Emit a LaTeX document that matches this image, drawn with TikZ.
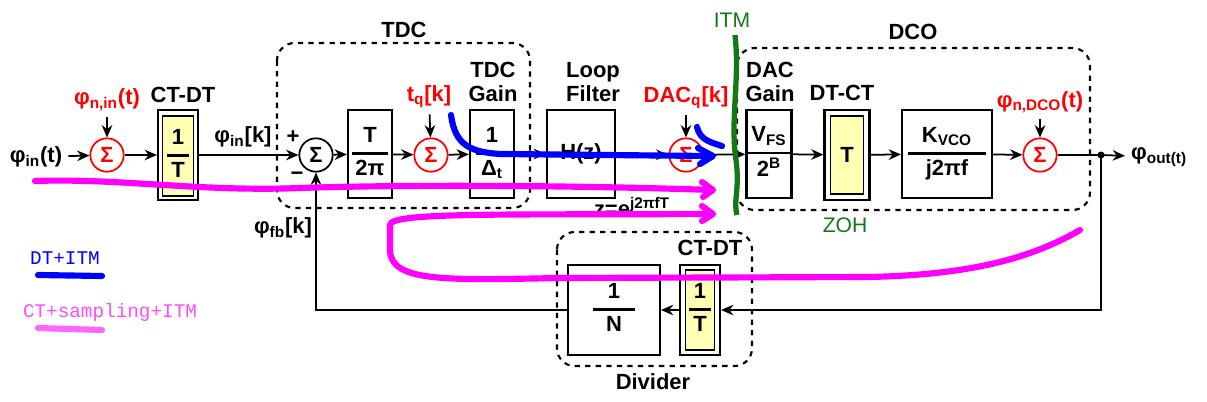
\documentclass[tikz,border=0pt]{standalone}
\usepackage{fontspec}
\setmainfont{Liberation Sans}
\newfontfamily\monof{Liberation Mono}
\usetikzlibrary{arrows.meta,calc}
\definecolor{zyel}{RGB}{255,255,180}
\definecolor{zgreen}{RGB}{20,120,20}
\definecolor{zmag}{RGB}{255,0,255}
\newcommand\zfr[3]{\begin{tabular}{@{}c@{}}#1\\[-4pt]\rule[3pt]{#3}{1.3pt}\\[-5pt]#2\end{tabular}}
\begin{document}
\begin{tikzpicture}[x=0.02cm,y=-0.02cm,font=\fontsize{12.5}{14}\selectfont\bfseries,
  bx/.style 2 args={minimum width=#1*0.567pt,minimum height=#2*0.567pt,inner sep=0pt},
  blk/.style={draw,line width=1.3pt},
  inr/.style={draw,line width=1pt,fill=zyel},
  sumr/.style={circle,draw=red,text=red,line width=1pt,minimum size=19pt,inner sep=0pt},
  sumb/.style={circle,draw,line width=1pt,minimum size=19pt,inner sep=0pt},
  sig/.style={-{Stealth[length=7pt,width=6pt]},line width=1pt},
  grp/.style={draw,dashed,line width=1.2pt,rounded corners=10},
  lbl/.style={align=center,font=\fontsize{12.5}{14}\selectfont\bfseries},
  rlbl/.style={text=red,font=\fontsize{12.5}{14}\selectfont\bfseries},
  mag/.style={zmag,line width=3.5pt,line cap=round,line join=round},
  blu/.style={blue,line width=3.5pt,line cap=round,line join=round}]
\useasboundingbox (0,0) rectangle (1207,402);
% groups
\draw[grp] (277,43) rectangle (530,208);
\draw[grp] (737,48) rectangle (1090,210);
\draw[grp] (557,232) rectangle (752,366);
\node[lbl] (tdcl) at (404,30) {TDC};
\node[lbl] (dcol) at (913,32) {DCO};
\node[lbl] (divl) at (653,382) {Divider};
% input
\node (in) at (36,157) {φ\textsubscript{in}(t)};
\node[sumr] (s1) at (107,155) {Σ};
\node[rlbl] (n1) at (107,100) {φ\textsubscript{n,in}(t)};
\node[blk,bx={40}{90}] (ctdt) at (178,155) {};
\node[inr,bx={31}{81}] (ctdti) at (178,156) {\zfr{1}{T}{13pt}};
\node[lbl] (ctdtl) at (183,95) {CT-DT};
\node (pink) at (243,137) {φ\textsubscript{in}[k]};
\node (plus) at (293,137) {+};
\node (minus) at (297,176) {−};
\node[sumb] (s2) at (316,155) {Σ};
\node[blk,bx={44}{88}] (t2pi) at (370,154) {\zfr{T}{2π}{20pt}};
\node[sumr] (s3) at (431,155) {Σ};
\node[rlbl] (tq) at (429,97) {t\textsubscript{q}[k]};
\node[blk,bx={44}{88}] (tdcg) at (492,154) {\zfr{1}{Δ\textsubscript{t}}{18pt}};
\node[lbl] (tdcgl) at (493,82) {TDC\\Gain};
\node[blk,bx={68}{88}] (lf) at (581,154) {H(z)};
\node[lbl] (lfl) at (593,82) {Loop\\Filter};
\node (zeq) at (632,207) {z=e\textsuperscript{j2πfT}};
\node[sumr] (s4) at (686,155) {Σ};
\node[rlbl] (dq) at (686,98) {DAC\textsubscript{q}[k]};
\node[blk,bx={45}{88}] (dac) at (769,154) {\zfr{V\textsubscript{FS}}{2\textsuperscript{B}}{24pt}};
\node[lbl] (dacl) at (770,82) {DAC\\Gain};
\node[blk,bx={45}{90}] (dtct) at (847,155) {};
\node[inr,bx={33}{79}] (dtcti) at (847,155) {T};
\node[lbl] (dtctl) at (842,93) {DT-CT};
\node[text=zgreen,font=\normalfont\fontsize{12}{13}\selectfont] (zoh) at (845,225) {ZOH};
\node[blk,bx={90}{88}] (kvco) at (947,154) {\zfr{K\textsubscript{VCO}}{j2πf}{44pt}};
\node[sumr] (s5) at (1040,155) {Σ};
\node[rlbl] (n5) at (1040,102) {φ\textsubscript{n,DCO}(t)};
\coordinate (dot) at (1101,155);
\fill (dot) circle (3.5);
\node[anchor=west] (out) at (1125,157) {φ\textsubscript{out(t)}};
% divider
\node[blk,bx={92}{90}] (divn) at (614,310) {\zfr{1}{N}{24pt}};
\node[blk,bx={40}{90}] (ctdt2) at (700,310) {};
\node[inr,bx={29}{80}] (ctdt2i) at (700,310) {\zfr{1}{T}{12pt}};
\node[lbl] (ctdt2l) at (710,248) {CT-DT};
\node (fb) at (283,228) {φ\textsubscript{fb}[k]};
% signal path
\draw[sig] (in) -- (s1);
\draw[sig] (n1) -- (s1);
\draw[sig] (s1) -- (ctdt);
\draw[sig] (ctdt) -- (s2);
\draw[sig] (s2) -- (t2pi);
\draw[sig] (t2pi) -- (s3);
\draw[sig] (tq) -- (s3);
\draw[sig] (s3) -- (tdcg);
\draw[sig] (tdcg) -- (lf);
\draw[sig] (lf) -- (s4);
\draw[sig] (dq) -- (s4);
\draw[sig] (s4) -- (dac);
\draw[sig] (dac) -- (dtct);
\draw[sig] (dtct) -- (kvco);
\draw[sig] (kvco) -- (s5);
\draw[sig] (n5) -- (s5);
\draw[line width=1pt] (s5) -- (dot);
\draw[sig] (dot) -- (out);
\draw[sig] (dot) |- (ctdt2);
\draw[sig] (ctdt2) -- (divn);
\draw[sig] (divn.west) -| (s2.south);
% ITM
\draw[zgreen,line width=3pt] (735,35) .. controls (740,80) and (730,120) .. (736,160) .. controls (740,190) and (733,200) .. (737,215);
\node[text=zgreen,font=\normalfont\fontsize{12}{13}\selectfont] (itm) at (732,20) {ITM};
% legend
\node[text=blue,font=\monof\fontsize{11}{12}\selectfont] (lg1) at (65,258) {DT+ITM};
\draw[blu] (38,275) -- (102,276);
\node[text=zmag!70,font=\monof\fontsize{11}{12}\selectfont] (lg2) at (110,313) {CT+sampling+ITM};
\draw[zmag!60,line width=3.5pt,line cap=round] (38,328) -- (102,330);
% freehand
\draw[blu] (451,115) .. controls (455,145) and (470,152) .. (500,154) -- (710,156);
\draw[blu] (698,148) -- (713,156) -- (700,164);
\draw[blu] (697,127) .. controls (700,140) and (710,142) .. (722,146);
\draw[mag] (35,181) .. controls (120,178) and (200,192) .. (300,188) .. controls (420,184) and (600,186) .. (712,190);
\draw[mag] (702,182) -- (713,190) -- (703,197);
\draw[mag] (1080,230) .. controls (1020,265) and (950,275) .. (870,277) -- (560,278) .. controls (450,280) and (390,283) .. (390,250) -- (390,225) .. controls (390,212) and (500,215) .. (712,214);
\draw[mag] (702,206) -- (713,214) -- (702,221);
\end{tikzpicture}
\end{document}
